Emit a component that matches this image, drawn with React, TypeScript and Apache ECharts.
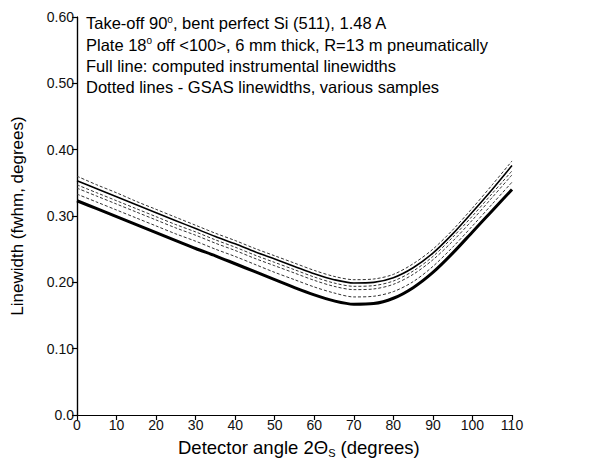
import React, { useEffect, useRef } from "react";
import * as echarts from "echarts";

const xValues = [0, 5, 10, 15, 20, 25, 30, 35, 40, 45, 50, 55, 60, 65, 70, 75, 80, 85, 90, 95, 100, 105, 110];
const solidThick = [0.323, 0.311, 0.299, 0.287, 0.275, 0.263, 0.251, 0.240, 0.228, 0.216, 0.204, 0.192, 0.181, 0.172, 0.167, 0.168, 0.176, 0.192, 0.215, 0.244, 0.276, 0.308, 0.340];
const dotted4 = [0.333, 0.321, 0.309, 0.297, 0.285, 0.273, 0.262, 0.250, 0.239, 0.227, 0.215, 0.204, 0.193, 0.184, 0.178, 0.179, 0.186, 0.201, 0.224, 0.253, 0.285, 0.318, 0.351];
const dotted3 = [0.342, 0.330, 0.318, 0.306, 0.294, 0.282, 0.271, 0.259, 0.248, 0.236, 0.225, 0.214, 0.203, 0.194, 0.189, 0.190, 0.197, 0.212, 0.234, 0.262, 0.294, 0.328, 0.362];
const dotted2 = [0.347, 0.335, 0.323, 0.311, 0.299, 0.287, 0.276, 0.264, 0.253, 0.241, 0.230, 0.219, 0.208, 0.199, 0.194, 0.195, 0.202, 0.217, 0.239, 0.268, 0.300, 0.334, 0.368];
const solidThin = [0.353, 0.341, 0.329, 0.317, 0.305, 0.293, 0.281, 0.269, 0.258, 0.246, 0.235, 0.224, 0.213, 0.204, 0.199, 0.200, 0.207, 0.222, 0.244, 0.273, 0.306, 0.340, 0.376];
const dotted1 = [0.360, 0.347, 0.335, 0.322, 0.310, 0.298, 0.286, 0.274, 0.263, 0.251, 0.240, 0.229, 0.218, 0.209, 0.204, 0.205, 0.212, 0.228, 0.250, 0.279, 0.312, 0.347, 0.383];
const yTicks = ["0.0", "0.10", "0.20", "0.30", "0.40", "0.50", "0.60"];
const noteLines = [
  "Take-off 90{sup|o}, bent perfect Si (511), 1.48 A",
  "Plate 18{sup|o} off <100>, 6 mm thick, R=13 m pneumatically",
  "Full line: computed instrumental linewidths",
  "Dotted lines - GSAS linewidths, various samples",
];

const FONT = "'Liberation Sans', Arial, Helvetica, sans-serif";

function pair(arr: number[]) {
  return xValues.map((x, i) => [x, arr[i]]);
}

export default function App() {
  const ref = useRef<HTMLDivElement>(null);
  useEffect(() => {
    document.body.style.margin = "0";
    if (!ref.current) return;
    const chart = echarts.init(ref.current, null, { renderer: "svg" });
    const dottedStyle = { color: "#333", width: 1, type: [3, 2] as any };
    const mk = (name: string, data: number[], lineStyle: any) => ({
      name,
      type: "line",
      smooth: 0.3,
      showSymbol: false,
      symbol: "none",
      data: pair(data),
      lineStyle,
      z: 3,
    });
    const axisLine = { show: true, lineStyle: { color: "#000", width: 1.2 } };
    const tickStyle = { color: "#000", width: 1.1 };
    chart.setOption({
      animation: false,
      backgroundColor: "#fff",
      grid: { left: 77, right: 95, top: 17, bottom: 47, containLabel: false },
      xAxis: [
        {
          type: "value",
          min: 0,
          max: 110,
          interval: 10,
          position: "bottom",
          axisLine,
          axisTick: { show: true, inside: false, length: 5, lineStyle: tickStyle },
          axisLabel: { color: "#111", fontSize: 14, fontFamily: FONT, margin: 3 },
          splitLine: { show: false },
        },
        {
          type: "value",
          min: 0,
          max: 110,
          interval: 10,
          position: "top",
          axisLine,
          axisTick: { show: true, inside: true, length: 5, lineStyle: tickStyle },
          axisLabel: { show: false },
          splitLine: { show: false },
        },
      ],
      yAxis: [
        {
          type: "value",
          min: 0,
          max: 0.6,
          interval: 0.1,
          position: "left",
          axisLine,
          axisTick: { show: true, inside: false, length: 5, lineStyle: tickStyle },
          axisLabel: {
            color: "#111",
            fontSize: 14,
            fontFamily: FONT,
            margin: 3,
            formatter: (v: number) => yTicks[Math.round(v * 10)] ?? "",
          },
          splitLine: { show: false },
        },
        {
          type: "value",
          min: 0,
          max: 0.6,
          interval: 0.1,
          position: "right",
          axisLine,
          axisTick: { show: true, inside: true, length: 5, lineStyle: tickStyle },
          axisLabel: { show: false },
          splitLine: { show: false },
        },
      ],
      series: [
        mk("GSAS 1", dotted1, dottedStyle),
        mk("Computed 1", solidThin, { color: "#000", width: 1.6 }),
        mk("GSAS 2", dotted2, dottedStyle),
        mk("GSAS 3", dotted3, dottedStyle),
        mk("GSAS 4", dotted4, dottedStyle),
        mk("Computed 2", solidThick, { color: "#000", width: 3 }),
      ],
      graphic: [
        ...noteLines.map((t, i) => ({
          type: "text",
          left: 86,
          top: 14 + i * 21.5,
          style: {
            text: t,
            fontFamily: FONT,
            fontSize: 16.5,
            fill: "#000",
            rich: {
              sup: { fontSize: 10, verticalAlign: "top", padding: [0, 0, 8, 0], fontFamily: FONT, fill: "#000" },
            },
          },
        })),
        {
          type: "text",
          left: 178,
          top: 438,
          style: {
            text: "Detector angle 2Θ{sub|S} (degrees)",
            fontFamily: FONT,
            fontSize: 18.5,
            fill: "#000",
            rich: {
              sub: { fontSize: 11, padding: [10, 0, 0, 0], fontFamily: FONT, fill: "#000" },
            },
          },
        },
        {
          type: "text",
          x: 17,
          y: 216,
          rotation: Math.PI / 2,
          style: {
            text: "Linewidth (fwhm, degrees)",
            fontFamily: FONT,
            fontSize: 17,
            fill: "#000",
            align: "center",
            verticalAlign: "middle",
          },
        },
      ],
    });
    return () => chart.dispose();
  }, []);
  return <div ref={ref} style={{ width: 607, height: 462 }} />;
}
